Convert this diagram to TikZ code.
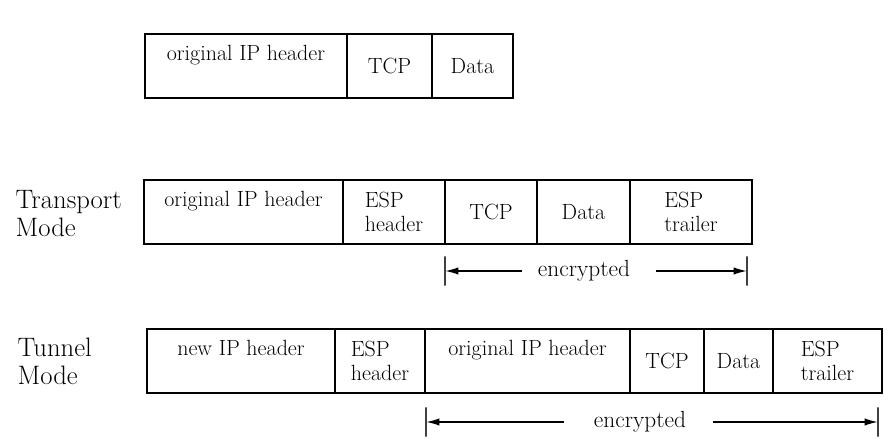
\documentclass[tikz,border=0pt]{standalone}
\usetikzlibrary{arrows.meta,positioning}
\begin{document}
\begin{tikzpicture}[x=0.75pt, y=-0.75pt, font=\fontsize{16.5}{17.5}\selectfont,
  cell/.style={draw=black, line width=1.3pt, outer sep=0pt, inner sep=2pt, align=center, minimum height=48pt},
  upper/.style={text depth=20pt},
  mode/.style={align=left, anchor=west, font=\fontsize{20}{21}\selectfont},
  bar/.style={draw=black!75, line width=1.4pt, inner sep=0pt, outer sep=0pt, minimum width=0pt, minimum height=22pt},
  arrow/.style={-{Latex[length=10pt,width=5.5pt]}, line width=1.2pt},
  enc/.style={inner sep=0pt, font=\fontsize{17.5}{18}\selectfont}]
\useasboundingbox (0,0) rectangle (891,445);
% plain packet
\node[cell, upper, anchor=north west, minimum width=151.5pt] (ip0) at (145,34) {original IP header};
\node[cell, right=0pt of ip0, minimum width=63.75pt] (tcp0) {TCP};
\node[cell, right=0pt of tcp0, minimum width=60.75pt] (data0) {Data};
% transport mode
\node[mode] (transport) at (11,214) {Transport\\Mode};
\node[cell, upper, anchor=north west, minimum width=149.25pt] (ip1) at (144,180) {original IP header};
\node[cell, align=left, right=0pt of ip1, minimum width=76.5pt] (esph1) {ESP\\header};
\node[cell, right=0pt of esph1, minimum width=69pt] (tcp1) {TCP};
\node[cell, right=0pt of tcp1, minimum width=69.75pt] (data1) {Data};
\node[cell, align=left, right=0pt of data1, minimum width=91.5pt] (espt1) {ESP\\trailer};
\node[enc] (enc1) at (584,271) {encrypted};
\node[bar] (encl1) at (445,271) {};
\node[bar] (encr1) at (747,271) {};
\draw[arrow, shorten <=12pt] (enc1.west) -- (encl1);
\draw[arrow, shorten <=19pt] (enc1.east) -- (encr1);
% tunnel mode
\node[mode] (tunnel) at (13,361) {Tunnel\\Mode};
\node[cell, upper, anchor=north west, minimum width=141pt] (newip2) at (147,329) {new IP header};
\node[cell, align=left, right=0pt of newip2, minimum width=67.5pt] (esph2) {ESP\\header};
\node[cell, upper, right=0pt of esph2, minimum width=153.75pt] (ip2) {original IP header};
\node[cell, right=0pt of ip2, minimum width=55.5pt] (tcp2) {TCP};
\node[cell, right=0pt of tcp2, minimum width=51.75pt] (data2) {Data};
\node[cell, align=left, right=0pt of data2, minimum width=81.75pt] (espt2) {ESP\\trailer};
\node[enc] (enc2) at (640,422) {encrypted};
\node[bar] (encl2) at (426,422) {};
\node[bar] (encr2) at (878,422) {};
\draw[arrow, shorten <=22pt] (enc2.west) -- (encl2);
\draw[arrow, shorten <=20pt] (enc2.east) -- (encr2);
\end{tikzpicture}
\end{document}
